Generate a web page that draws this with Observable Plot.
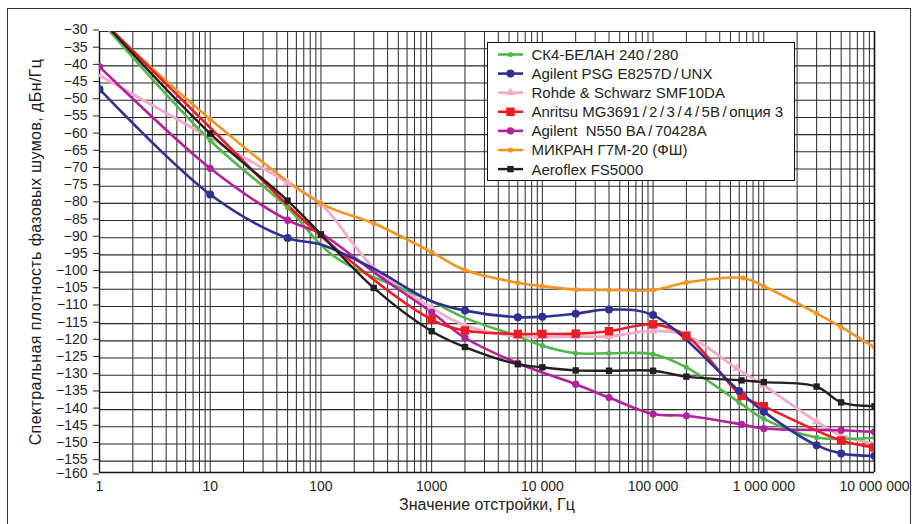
<!DOCTYPE html>
<html><head><meta charset="utf-8">
<script src="https://cdn.jsdelivr.net/npm/d3@7"></script>
<script src="https://cdn.jsdelivr.net/npm/@observablehq/plot@0.6"></script>
<style>
html,body{margin:0;padding:0;background:#fff;overflow:hidden}
#wrap{position:relative;width:922px;height:524px;font-family:"Liberation Sans",Arial,sans-serif;color:#231f20}
#frame{position:absolute;left:7px;top:8px;width:904px;height:540px;border:1.5px solid #333;box-sizing:border-box;pointer-events:none}
#ytitle{position:absolute;left:36px;top:252px;transform:translate(-50%,-50%) rotate(-90deg);white-space:nowrap;font-size:16px;letter-spacing:0.4px}
#xtitle{position:absolute;left:487px;top:505px;transform:translate(-50%,-50%);white-space:nowrap;font-size:16px}
#legend{position:absolute;left:487px;top:42px;width:308px;height:139px;border:1.6px solid #111;background:#fff;box-sizing:border-box}
#legend svg{position:absolute;left:0;top:0}
#legend text{font-family:"Liberation Sans",Arial,sans-serif;font-size:15px;fill:#231f20;white-space:pre}
</style></head><body><div id="wrap"><div id="frame"></div></div>
<script>
// ---- data ----
const seriesNames = ["СК4-БЕЛАН 240/280", "Agilent PSG E8257D/UNX", "Rohde & Schwarz SMF10DA",
  "Anritsu MG3691/2/3/4/5B/опция 3", "Agilent  N550 BA/70428A", "МИКРАН Г7М-20 (ФШ)", "Aeroflex FS5000"];

const belanX = [1, 10, 50, 130, 1000, 2000, 6000, 10000, 20000, 40000, 100000, 200000, 600000, 1e6, 3e6, 1e7];
const belanY = [-26.5, -61.7, -81.2, -95.3, -108.5, -113.3, -118.7, -121.4, -123.6, -123.6, -123.9, -127.7, -137.9, -142.7, -148.1, -148.2];
const belanNoMarker = [1, 130, 1000, 2000, 6000];

const psgX = [1, 10, 50, 100, 300, 1000, 2000, 6000, 10000, 20000, 40000, 100000, 600000, 1e6, 3e6, 5e6, 1e7];
const psgY = [-46.8, -77.4, -90.1, -92, -99, -108.5, -111.2, -113.1, -113, -112.1, -110.9, -112.5, -134.6, -140.6, -150.4, -152.8, -153.5];
const psgNoMarker = [100, 300, 1000];

const rsX = [1, 10, 50, 100, 300, 1000, 2000, 6000, 20000, 40000, 100000, 200000, 570000, 1e6, 3e6, 5e6, 1e7];
const rsY = [-42.8, -61, -74, -80.2, -98.7, -110.4, -115.5, -118.7, -118.7, -118.7, -117.1, -118.4, -128, -133, -143.5, -147.5, -149.9];
const rsNoMarker = [1, 10, 300, 5e6];

const anritsuX = [1, 10, 100, 1000, 2000, 6000, 10000, 20000, 40000, 100000, 200000, 630000, 1e6, 5e6, 1e7];
const anritsuY = [-26, -58, -89.5, -113.8, -117, -118, -118, -117.9, -117.2, -115.2, -118.5, -136, -139, -149, -151];
const anritsuNoMarker = [1, 10, 100];

const n550X = [1, 10, 50, 100, 300, 1000, 2000, 6000, 20000, 40000, 100000, 200000, 630000, 1e6, 5e6, 1e7];
const n550Y = [-40.2, -69.8, -84.9, -88.8, -100, -111.7, -119.1, -126.5, -132.6, -136.5, -141.3, -141.8, -144.3, -145.5, -146, -146.5];
const n550NoMarker = [100, 300];

const mikranX = [1, 10, 100, 300, 1000, 2000, 6000, 10000, 20000, 40000, 100000, 200000, 650000, 1e6, 3e6, 5e6, 1e7];
const mikranY = [-26.5, -55.5, -80, -85.8, -94.2, -99.4, -103.1, -104.1, -105.1, -105.2, -105.2, -103, -101.7, -104.1, -112, -116, -121.9];
const mikranNoMarker = [1];

const aeroX = [1, 10, 50, 100, 300, 1000, 2000, 6000, 10000, 20000, 40000, 100000, 200000, 630000, 1e6, 3e6, 5e6, 1e7];
const aeroY = [-26, -59.7, -79.2, -89, -104.6, -117.2, -121.8, -126.8, -127.7, -128.6, -128.7, -128.7, -130.4, -131.5, -132, -133.3, -137.9, -139];
const aeroNoMarker = [1];

const xTickValues = [1, 10, 100, 1000, 10000, 100000, 1000000, 10000000];
const xTickLabels = ["1", "10", "100", "1000", "10 000", "100 000", "1 000 000", "10 000 000"];
const yTickValues = [-30,-35,-40,-45,-50,-55,-60,-65,-70,-75,-80,-85,-90,-95,-100,-105,-110,-115,-120,-125,-130,-135,-140,-145,-150,-155,-160];
const yBottom = -158.3; // the bottom edge of the plot, labelled −160 in the reference
const xTitle = "Значение отстройки, Гц";
const yTitle = "Спектральная плотность фазовых шумов, дБн/Гц";

// ---- styling table ----
const series = [
  {name: seriesNames[0], xs: belanX, ys: belanY, no: belanNoMarker, color: "#4fb848", symbol: "circle", r: 2.6, w: 2.6},
  {name: seriesNames[1], xs: psgX, ys: psgY, no: psgNoMarker, color: "#2e3192", symbol: "circle", r: 4, w: 2.6},
  {name: seriesNames[2], xs: rsX, ys: rsY, no: rsNoMarker, color: "#f6aacb", symbol: "triangle", r: 3.3, w: 2.8},
  {name: seriesNames[3], xs: anritsuX, ys: anritsuY, no: anritsuNoMarker, color: "#ed1c24", symbol: "square", r: 4.8, w: 2.6},
  {name: seriesNames[4], xs: n550X, ys: n550Y, no: n550NoMarker, color: "#b3219b", symbol: "circle", r: 3.6, w: 2.6},
  {name: seriesNames[5], xs: mikranX, ys: mikranY, no: mikranNoMarker, color: "#f7941e", symbol: "circle", r: 2.6, w: 2.6},
  {name: seriesNames[6], xs: aeroX, ys: aeroY, no: aeroNoMarker, color: "#231f20", symbol: "square", r: 3.6, w: 2.4}
];
const drawOrder = [2, 0, 4, 5, 3, 1, 6];

const rows = series.flatMap(s => s.xs.map((x, i) => ({x, y: s.ys[i], s: s.name, marker: !s.no.includes(x)})));

const xGrid = [];
for (let d = 0; d < 7; d++) for (let k = 1; k <= 9; k++) xGrid.push(k * Math.pow(10, d));
xGrid.push(1e7);
const yGrid = yTickValues.map(v => Math.max(v, yBottom));
const yLabel = d => "−" + Math.abs(yTickValues[yGrid.indexOf(d)]);

const marks = [
  Plot.ruleX(xGrid, {stroke: "#2a2a2a", strokeWidth: 1}),
  Plot.ruleY(yGrid, {stroke: "#2a2a2a", strokeWidth: 1.1}),
  Plot.ruleX([1e7], {stroke: "#111", strokeWidth: 1.6}),
  Plot.ruleX([1], {stroke: "#111", strokeWidth: 1.4}),
  Plot.ruleY([yBottom], {stroke: "#111", strokeWidth: 1.4}),
  Plot.axisX({ticks: xTickValues, tickFormat: d => xTickLabels[xTickValues.indexOf(d)], tickSize: 0, tickPadding: 9, label: null, fontSize: 14}),
  Plot.axisY({ticks: yGrid.slice(0, -1), tickFormat: yLabel, tickSize: 6, tickPadding: 6, label: null, fontSize: 14, stroke: "#222", dy: -1.5}),
  Plot.axisY({ticks: yGrid.slice(-1), tickFormat: yLabel, tickSize: 6, tickPadding: 6, label: null, fontSize: 14, stroke: "#222", dy: 1.5})
];
for (const i of drawOrder) {
  const s = series[i];
  const data = rows.filter(d => d.s === s.name);
  marks.push(Plot.line(data, {x: "x", y: "y", stroke: s.color, strokeWidth: s.w, curve: "catmull-rom", clip: true}));
}
for (const i of drawOrder) {
  const s = series[i];
  const data = rows.filter(d => d.s === s.name && d.marker);
  marks.push(Plot.dot(data, {x: "x", y: "y", symbol: s.symbol, r: s.r, fill: s.color, stroke: "none", clip: true}));
}

const chart = Plot.plot({
  width: 922, height: 524,
  marginLeft: 99, marginRight: 48, marginTop: 31, marginBottom: 52,
  x: {type: "log", domain: [1, 1e7]},
  y: {domain: [yBottom, -30]},
  style: {fontFamily: "'Liberation Sans', Arial, sans-serif", fontSize: "14px", color: "#231f20", background: "#fff"},
  marks
});
const wrap = document.getElementById("wrap");
wrap.insertBefore(chart, wrap.firstChild);

const yt = document.createElement("div"); yt.id = "ytitle"; yt.textContent = yTitle; wrap.appendChild(yt);
const xt = document.createElement("div"); xt.id = "xtitle"; xt.textContent = xTitle; wrap.appendChild(xt);

// legend
const leg = document.createElement("div"); leg.id = "legend"; wrap.appendChild(leg);
const lsvg = d3.select(leg).append("svg").attr("width", 306).attr("height", 137);
series.forEach((s, i) => {
  const cy = 11.5 + i * 19.1;
  const g = lsvg.append("g");
  g.append("line").attr("x1", 10).attr("x2", 35).attr("y1", cy).attr("y2", cy).attr("stroke", s.color).attr("stroke-width", s.w);
  const sym = s.symbol === "square" ? d3.symbolSquare : s.symbol === "triangle" ? d3.symbolTriangle : d3.symbolCircle;
  g.append("path").attr("d", d3.symbol(sym, Math.PI * s.r * s.r)()).attr("transform", `translate(22.5,${cy})`).attr("fill", s.color);
  const t = g.append("text").attr("x", 41).attr("y", cy).attr("dy", "0.36em");
  // slashes are set with a little extra room, as in the reference typeface
  s.name.split(/(\/)/).forEach(part => {
    if (part === "/") t.append("tspan").attr("dx", 2.5).text("/");
    else if (part) t.append("tspan").attr("dx", t.selectAll("tspan").size() ? 2.5 : 0).text(part);
  });
});
</script></body></html>
